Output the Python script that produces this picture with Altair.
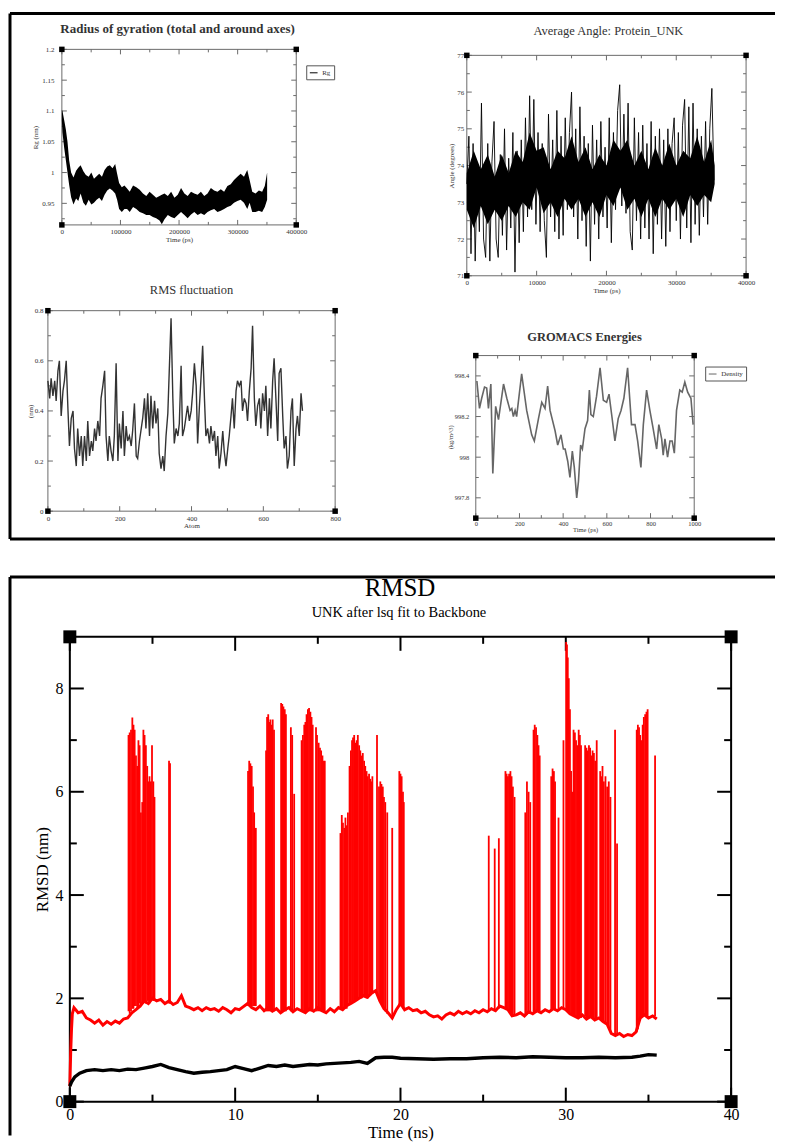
import altair as alt
import pandas as pd

FONT = "Liberation Serif"

# ---------------- Radius of gyration (time ps, Rg nm band envelope) ----------------
rg_t = [0, 1000, 4000, 6800, 9600, 12400, 15800, 19800, 24300, 28000,
        32000, 36700, 41000, 45800, 50300, 54800, 59300, 63800, 68400, 72900,
        77400, 81900, 86400, 91000, 94300, 97700, 102300, 106800, 111300, 115800,
        121500, 127100, 132800, 138400, 144100, 149700, 155400, 161000, 166700, 170600,
        175200, 180800, 186500, 192100, 197800, 203400, 209100, 214700, 220400, 226000,
        231700, 237300, 243000, 248600, 254300, 259900, 265600, 271200, 276900, 282500,
        288200, 293800, 299500, 305100, 310800, 316400, 320400, 324900, 330500, 336200,
        341800, 346300, 350300]
rg_hi = [1.102, 1.100, 1.085, 1.070, 1.050, 1.020, 1.000, 0.992, 1.003, 1.008,
         1.012, 1.002, 0.996, 0.993, 1.000, 0.990, 0.994, 0.998, 0.993, 1.004,
         1.010, 1.012, 1.007, 1.014, 0.998, 0.983, 0.976, 0.979, 0.974, 0.969,
         0.979, 0.976, 0.972, 0.966, 0.962, 0.969, 0.964, 0.959, 0.962, 0.964,
         0.966, 0.962, 0.969, 0.959, 0.964, 0.975, 0.966, 0.962, 0.969, 0.966,
         0.964, 0.969, 0.962, 0.966, 0.975, 0.971, 0.969, 0.973, 0.969, 0.978,
         0.981, 0.988, 0.993, 0.998, 0.993, 1.004, 0.988, 0.969, 0.966, 0.971,
         0.969, 0.978, 1.000]
rg_lo = [1.085, 1.065, 1.040, 1.020, 1.000, 0.980, 0.960, 0.948, 0.958, 0.954,
         0.966, 0.951, 0.946, 0.956, 0.948, 0.951, 0.956, 0.959, 0.954, 0.964,
         0.971, 0.974, 0.971, 0.966, 0.956, 0.941, 0.936, 0.941, 0.941, 0.936,
         0.944, 0.941, 0.936, 0.934, 0.931, 0.931, 0.928, 0.926, 0.922, 0.916,
         0.924, 0.931, 0.928, 0.926, 0.931, 0.936, 0.931, 0.926, 0.932, 0.936,
         0.931, 0.934, 0.931, 0.936, 0.939, 0.941, 0.936, 0.938, 0.941, 0.944,
         0.946, 0.951, 0.954, 0.956, 0.951, 0.941, 0.951, 0.936, 0.936, 0.938,
         0.936, 0.944, 0.956]

# ---------------- Average angle (time ps, degrees) ----------------
ang_core_t = [0, 1000, 2000, 3000, 4000, 5000, 6000, 7000, 8000, 9000,
              10000, 11000, 12000, 13000, 14000, 15000, 16000, 17000, 18000, 19000,
              20000, 21000, 22000, 23000, 24000, 25000, 26000, 27000, 28000, 29000,
              30000, 31000, 32000, 33000, 34000, 35000, 35500]
ang_core_lo = [72.8, 72.3, 72.9, 72.4, 72.8, 72.5, 72.9, 72.6, 73.0, 72.8,
               73.4, 72.7, 73.0, 72.6, 73.1, 72.8, 73.1, 72.6, 73.0, 72.6,
               73.2, 72.9, 73.4, 72.8, 73.1, 72.6, 73.1, 72.6, 73.1, 72.8,
               73.1, 72.6, 73.2, 72.9, 73.2, 73.0, 73.5]
ang_core_hi = [73.8, 74.4, 73.9, 74.3, 73.7, 74.3, 73.8, 74.4, 74.1, 74.9,
               74.4, 74.5, 73.9, 74.4, 74.2, 74.8, 74.1, 74.5, 73.9, 74.3,
               74.0, 74.7, 74.4, 74.7, 74.0, 74.4, 73.9, 74.5, 74.0, 74.6,
               74.0, 74.4, 74.2, 74.8, 74.1, 74.7, 74.0]
ang_t = [0, 300, 600, 900, 1200, 1500, 1800, 2100, 2400, 2700,
         3000, 3300, 3600, 3900, 4200, 4500, 4800, 5100, 5400, 5700,
         6000, 6300, 6600, 6900, 7200, 7500, 7800, 8100, 8400, 8700,
         9000, 9300, 9600, 9900, 10200, 10500, 10800, 11100, 11400, 11700,
         12000, 12300, 12600, 12900, 13200, 13500, 13800, 14100, 14400, 14700,
         15000, 15300, 15600, 15900, 16200, 16500, 16800, 17100, 17400, 17700,
         18000, 18300, 18600, 18900, 19200, 19500, 19800, 20100, 20400, 20700,
         21000, 21300, 21600, 21900, 22200, 22500, 22800, 23100, 23400, 23700,
         24000, 24300, 24600, 24900, 25200, 25500, 25800, 26100, 26400, 26700,
         27000, 27300, 27600, 27900, 28200, 28500, 28800, 29100, 29400, 29700,
         30000, 30300, 30600, 30900, 31200, 31500, 31800, 32100, 32400, 32700,
         33000, 33300, 33600, 33900, 34200, 34500, 34800, 35100, 35400]
ang_v = [73.5, 74.8, 71.6, 74.6, 71.4, 73.9, 72.2, 75.7, 72.0, 71.5,
         74.6, 71.4, 74.1, 75.2, 72.0, 71.5, 74.3, 72.1, 75.0, 71.7,
         74.2, 72.3, 74.9, 71.1, 74.4, 71.9, 74.7, 72.2, 75.3, 72.6,
         75.9, 72.8, 75.8, 72.4, 74.9, 72.2, 74.6, 72.5, 71.5, 75.4,
         72.6, 74.7, 72.2, 75.5, 72.0, 74.8, 72.1, 75.3, 72.8, 74.9,
         76.0, 72.6, 75.0, 72.0, 75.6, 72.5, 74.8, 71.8, 74.6, 71.4,
         75.1, 72.4, 74.7, 72.0, 75.2, 72.6, 74.5, 72.3, 75.3, 71.9,
         74.9, 72.8, 75.5, 76.2, 72.9, 75.4, 72.7, 75.7, 72.2, 71.7,
         75.3, 72.5, 74.9, 72.0, 75.1, 72.3, 74.6, 72.0, 75.2, 71.6,
         74.8, 72.4, 75.0, 72.0, 74.7, 71.8, 75.0, 72.2, 74.6, 75.3,
         72.5, 74.9, 72.0, 75.1, 75.8, 72.3, 75.6, 71.9, 75.7, 72.4,
         75.0, 72.1, 74.8, 72.6, 75.2, 72.4, 75.0, 76.1, 73.6]

# ---------------- RMS fluctuation (atom, nm) ----------------
rmsf_atom = [0, 5, 9, 14, 19, 23, 28, 32, 37, 42,
             46, 51, 56, 60, 65, 70, 74, 79, 83, 88,
             93, 97, 102, 107, 111, 116, 121, 125, 130, 134,
             139, 144, 148, 153, 158, 162, 167, 171, 176, 181,
             185, 190, 195, 199, 204, 209, 213, 218, 222, 227,
             232, 236, 241, 246, 250, 255, 260, 264, 269, 273,
             278, 283, 287, 292, 297, 301, 306, 310, 315, 320,
             324, 329, 334, 338, 343, 348, 352, 357, 362, 366,
             371, 375, 380, 385, 389, 394, 399, 403, 408, 413,
             417, 422, 426, 431, 436, 440, 445, 450, 454, 459,
             464, 468, 473, 477, 482, 487, 491, 496, 501, 505,
             510, 514, 519, 524, 528, 533, 538, 542, 547, 552,
             556, 561, 566, 570, 575, 579, 584, 589, 593, 598,
             603, 607, 612, 617, 621, 626, 630, 635, 640, 644,
             649, 654, 658, 663, 667, 672, 677, 681, 686, 691,
             695, 700, 705, 709]
rmsf_nm = [0.52, 0.45, 0.53, 0.46, 0.52, 0.44, 0.56, 0.60, 0.38, 0.48,
           0.52, 0.60, 0.40, 0.26, 0.37, 0.40, 0.25, 0.18, 0.33, 0.22,
           0.30, 0.18, 0.30, 0.20, 0.36, 0.22, 0.28, 0.24, 0.33, 0.28,
           0.36, 0.30, 0.45, 0.50, 0.56, 0.30, 0.20, 0.30, 0.24, 0.20,
           0.30, 0.59, 0.20, 0.35, 0.25, 0.40, 0.22, 0.34, 0.28, 0.30,
           0.26, 0.32, 0.43, 0.22, 0.21, 0.28, 0.33, 0.37, 0.45, 0.33,
           0.47, 0.30, 0.46, 0.33, 0.44, 0.35, 0.41, 0.23, 0.17, 0.22,
           0.16, 0.30, 0.39, 0.56, 0.77, 0.45, 0.27, 0.33, 0.30, 0.35,
           0.58, 0.30, 0.33, 0.38, 0.42, 0.36, 0.40, 0.47, 0.59, 0.50,
           0.27, 0.42, 0.52, 0.66, 0.45, 0.30, 0.33, 0.27, 0.34, 0.28,
           0.32, 0.22, 0.30, 0.17, 0.23, 0.32, 0.24, 0.18, 0.25, 0.30,
           0.38, 0.45, 0.33, 0.48, 0.52, 0.50, 0.52, 0.40, 0.45, 0.43,
           0.36, 0.48, 0.57, 0.74, 0.45, 0.34, 0.42, 0.45, 0.33, 0.47,
           0.40, 0.50, 0.30, 0.45, 0.33, 0.52, 0.61, 0.45, 0.28, 0.55,
           0.57, 0.38, 0.25, 0.30, 0.17, 0.22, 0.40, 0.45, 0.18, 0.33,
           0.38, 0.30, 0.47, 0.40]

# ---------------- GROMACS energies: density (time ps, kg/m^3) ----------------
dens_t = [5, 17, 27, 40, 50, 58, 69, 78, 91, 104,
          127, 142, 157, 165, 172, 180, 187, 210, 233, 256,
          268, 287, 302, 317, 329, 340, 363, 375, 390, 401,
          409, 421, 431, 442, 451, 462, 470, 480, 488, 500,
          512, 520, 527, 538, 553, 569, 584, 599, 610, 622,
          637, 652, 665, 678, 695, 713, 729, 741, 756, 767,
          782, 797, 812, 828, 838, 851, 858, 866, 878, 889,
          899, 909, 919, 934, 945, 957, 970, 985, 995]
dens_v = [998.375, 998.24, 998.29, 998.345, 998.34, 998.24, 998.36, 997.92, 998.25, 998.185,
          998.36, 998.29, 998.23, 998.24, 998.2, 998.23, 998.2, 998.41, 998.23, 998.11,
          998.08, 998.19, 998.27, 998.24, 998.35, 998.23, 998.13, 998.06, 998.11, 998.04,
          998.04, 997.98, 997.9, 998.03, 997.95, 997.8, 997.88, 998.06, 998.04, 998.14,
          998.18, 998.33, 998.21, 998.2, 998.3, 998.44, 998.28, 998.27, 998.31, 998.21,
          998.08, 998.19, 998.23, 998.29, 998.44, 998.16, 998.16, 998.08, 997.95, 998.16,
          998.33, 998.23, 998.14, 998.04, 998.16, 998.09, 998.01, 998.09, 998.0, 998.08,
          998.08, 998.02, 998.23, 998.33, 998.32, 998.37, 998.32, 998.29, 998.16]

# ---------------- RMSD (time ns, nm) ----------------
bb_t = [0.0, 0.1, 0.3, 0.6, 1.0, 1.5, 2.0, 2.5, 3.0, 3.5,
        4.0, 4.5, 5.0, 5.5, 6.0, 6.5, 7.0, 7.5, 8.0, 8.5,
        9.0, 9.5, 10.0, 10.5, 11.0, 11.5, 12.0, 12.5, 13.0, 13.5,
        14.0, 14.5, 15.0, 15.5, 16.0, 16.5, 17.0, 17.5, 18.0, 18.5,
        19.0, 19.5, 20.0, 21, 22, 23, 24, 25, 26, 27,
        28, 29, 30, 31, 32, 33, 34, 34.5, 35.0, 35.5]
bb_v = [0.30, 0.38, 0.48, 0.55, 0.60, 0.62, 0.60, 0.62, 0.60, 0.63,
        0.62, 0.65, 0.68, 0.72, 0.66, 0.62, 0.58, 0.55, 0.57, 0.58,
        0.60, 0.62, 0.68, 0.64, 0.60, 0.65, 0.70, 0.68, 0.71, 0.68,
        0.70, 0.72, 0.71, 0.73, 0.74, 0.75, 0.76, 0.78, 0.74, 0.85,
        0.86, 0.86, 0.84, 0.83, 0.82, 0.83, 0.83, 0.85, 0.86, 0.85,
        0.87, 0.86, 0.85, 0.85, 0.86, 0.85, 0.86, 0.88, 0.91, 0.90]

red_t = [0, 0.05, 0.1, 0.15,
         0.25, 0.5, 0.75, 1.0, 1.25, 1.5, 1.75, 2.0, 2.25, 2.5, 2.75, 3.0,
         3.25, 3.5, 3.75, 4.0, 4.25, 4.5, 4.75, 5.0, 5.25, 5.5, 5.75, 6.0,
         6.25, 6.5, 6.75, 7.0, 7.25, 7.5, 7.75, 8.0, 8.25, 8.5, 8.75, 9.0,
         9.25, 9.5, 9.75, 10.0, 10.25, 10.5, 10.75, 11.0, 11.25, 11.5, 11.75, 12.0,
         12.25, 12.5, 12.75, 13.0, 13.25, 13.5, 13.75, 14.0, 14.25, 14.5, 14.75, 15.0,
         15.25, 15.5, 15.75, 16.0, 16.25, 16.5, 16.75, 17.0, 17.25, 17.5, 17.75, 18.0,
         18.25, 18.5, 18.75, 19.0, 19.25, 19.5, 19.75, 20.0, 20.25, 20.5, 20.75, 21.0,
         21.25, 21.5, 21.75, 22.0, 22.25, 22.5, 22.75, 23.0, 23.25, 23.5, 23.75, 24.0,
         24.25, 24.5, 24.75, 25.0, 25.25, 25.5, 25.75, 26.0, 26.25, 26.5, 26.75, 27.0,
         27.25, 27.5, 27.75, 28.0, 28.25, 28.5, 28.75, 29.0, 29.25, 29.5, 29.75, 30.0,
         30.25, 30.5, 30.75, 31.0, 31.25, 31.5, 31.75, 32.0, 32.25, 32.5, 32.75, 33.0,
         33.25, 33.5, 33.75, 34.0, 34.25, 34.5, 34.75, 35.0, 35.25, 35.5]
red_v = [0.30, 0.95, 1.40, 1.70,
         1.82, 1.72, 1.75, 1.62, 1.58, 1.52, 1.58, 1.48, 1.55, 1.50, 1.56, 1.52,
         1.60, 1.62, 1.72, 1.78, 1.85, 1.95, 1.90, 2.00, 1.95, 1.98, 1.90, 1.95,
         1.88, 1.92, 2.05, 1.85, 1.82, 1.78, 1.82, 1.76, 1.82, 1.78, 1.80, 1.75,
         1.82, 1.78, 1.72, 1.80, 1.78, 1.84, 1.90, 1.82, 1.78, 1.85, 1.76, 1.82,
         1.75, 1.80, 1.72, 1.78, 1.82, 1.74, 1.80, 1.76, 1.72, 1.80, 1.75, 1.82,
         1.76, 1.72, 1.80, 1.74, 1.82, 1.78, 1.86, 1.90, 1.95, 2.00, 2.05, 2.02,
         2.10, 2.15, 1.95, 1.80, 1.72, 1.62, 1.78, 1.90, 1.78, 1.82, 1.76, 1.78,
         1.72, 1.75, 1.68, 1.64, 1.66, 1.60, 1.68, 1.72, 1.68, 1.75, 1.70, 1.74,
         1.70, 1.76, 1.72, 1.78, 1.74, 1.80, 1.76, 1.85, 1.82, 1.78, 1.66, 1.68,
         1.72, 1.66, 1.74, 1.70, 1.76, 1.72, 1.78, 1.74, 1.80, 1.76, 1.82, 1.78,
         1.70, 1.66, 1.62, 1.68, 1.60, 1.65, 1.58, 1.62, 1.55, 1.50, 1.32, 1.28,
         1.32, 1.26, 1.30, 1.28, 1.35, 1.62, 1.68, 1.62, 1.66, 1.60]

spike_t = [3.55, 3.62, 3.7, 3.78, 3.85, 3.92, 4.0, 4.08, 4.15, 4.22, 4.3, 4.38, 4.45, 4.52, 4.6, 4.68, 4.75, 4.82, 4.9, 4.97, 5.05, 5.12,
           6.0, 6.06,
           10.78, 10.85, 10.92, 11.0, 11.08, 11.15, 11.25,
           11.87, 11.93, 12.0, 12.07, 12.13, 12.2, 12.27, 12.35,
           12.78, 12.85, 12.92, 13.0, 13.07, 13.37, 13.45, 13.57,
           14.02, 14.1, 14.18, 14.25, 14.32, 14.4, 14.47, 14.55, 14.62, 14.69, 14.89, 14.95,
           15.05, 15.13, 15.2, 15.28, 15.35, 15.42,
           16.37, 16.45, 16.52, 16.6, 16.67, 16.75, 16.82,
           16.92, 17.0, 17.07, 17.13, 17.2, 17.27, 17.35, 17.42, 17.5, 17.57, 17.65, 17.72, 17.8, 17.87, 17.95, 18.02, 18.1, 18.17, 18.25, 18.3,
           18.58, 18.7, 18.78, 18.85, 18.93, 19.0, 19.08, 19.2, 19.5,
           19.93, 20.0, 20.07, 20.15, 20.2,
           25.34, 25.7, 25.95,
           26.35, 26.42, 26.5, 26.57, 26.65, 26.72, 26.8, 26.9,
           27.55, 27.65, 27.75, 27.85,
           28.05, 28.12, 28.2, 28.28, 28.35, 28.42,
           29.12, 29.2, 29.28, 29.35, 29.56,
           29.86, 30.02, 30.07, 30.12, 30.18, 30.25, 30.32, 30.4, 30.47, 30.55, 30.62, 30.7, 30.78, 30.85, 30.92,
           31.17, 31.25, 31.32, 31.4, 31.47, 31.55, 31.62, 31.7, 31.78, 31.87,
           32.08, 32.15, 32.22, 32.3, 32.4, 32.5, 32.6, 32.7,
           32.98, 33.1,
           34.29, 34.36, 34.43, 34.5, 34.57, 34.65, 34.72, 34.8, 34.88, 34.95,
           35.4]
spike_top = [7.1, 7.15, 7.2, 7.44, 7.3, 7.2, 6.7, 6.5, 7.0, 6.9, 5.6, 5.8, 7.2, 7.1, 6.9, 6.5, 6.2, 6.3, 6.2, 6.9, 6.2, 5.9,
             6.6, 6.55,
             6.4, 6.6, 6.55, 6.5, 6.1, 5.6, 5.3,
             6.8, 7.45, 7.5, 7.35, 7.4, 7.3, 7.4, 7.2,
             7.72, 7.7, 7.65, 7.6, 7.5, 7.25, 7.1, 5.96,
             7.0, 7.1, 7.3, 7.35, 7.5, 7.6, 7.62, 7.55, 7.45, 7.3, 7.25, 7.1,
             6.95, 6.85, 6.8, 6.7, 6.6, 6.6,
             5.2, 5.55, 5.4, 5.3, 5.5, 5.35, 5.6,
             6.5, 6.8, 7.0, 7.05, 7.1, 6.95, 7.0, 7.1, 6.9, 6.8, 6.7, 6.75, 6.6, 6.5, 6.4, 6.3, 6.35, 6.25, 6.2, 6.3,
             7.1, 6.1, 6.2, 6.15, 6.1, 5.9, 5.8, 5.6, 5.3,
             6.4, 6.35, 6.3, 6.0, 5.8,
             5.15, 4.9, 5.1,
             6.4, 6.35, 6.3, 6.35, 6.4, 6.3, 6.1, 5.9,
             5.6, 6.2, 6.0, 5.8,
             7.2, 7.3, 7.25, 7.1, 6.9, 6.7,
             6.3, 6.45, 6.4, 6.2, 5.5,
             7.0, 8.9, 8.85, 8.6, 8.2, 7.6, 6.4, 6.0, 7.2, 7.15, 7.0, 6.9, 7.2, 7.1, 6.9,
             6.9, 6.85, 6.8, 6.9, 6.85, 6.7, 6.8, 6.75, 6.6, 7.0,
             6.4, 6.3, 6.5, 6.2, 6.3, 6.1, 6.2, 5.9,
             7.2, 5.0,
             7.2, 7.3, 7.25, 7.1, 7.0, 7.3, 7.45, 7.5, 7.55, 7.6,
             6.7]
spike_base = [1.75, 1.7, 1.75, 1.8, 1.8, 1.85, 1.85, 1.8, 1.85, 1.9, 1.85, 1.9, 1.9, 1.95, 1.9, 1.95, 1.95, 1.9, 1.95, 2.0, 1.95, 1.95,
              1.9, 1.9,
              1.85, 1.85, 1.85, 1.85, 1.85, 1.85, 1.85,
              1.75, 1.75, 1.75, 1.75, 1.75, 1.75, 1.75, 1.75,
              1.75, 1.75, 1.75, 1.75, 1.75, 1.75, 1.75, 1.75,
              1.75, 1.75, 1.75, 1.75, 1.75, 1.75, 1.75, 1.75, 1.75, 1.75, 1.75, 1.75,
              1.75, 1.75, 1.75, 1.75, 1.75, 1.75,
              1.8, 1.8, 1.8, 1.8, 1.8, 1.8, 1.85,
              1.9, 1.9, 1.9, 1.95, 1.95, 1.95, 1.95, 2.0, 2.0, 2.0, 2.0, 2.05, 2.05, 2.05, 2.0, 2.0, 2.05, 2.05, 2.1, 2.1,
              2.1, 2.0, 1.95, 1.9, 1.85, 1.8, 1.75, 1.7, 1.6,
              1.85, 1.85, 1.85, 1.8, 1.8,
              1.75, 1.75, 1.8,
              1.8, 1.8, 1.8, 1.75, 1.7, 1.66, 1.66, 1.66,
              1.66, 1.68, 1.7, 1.7,
              1.7, 1.72, 1.72, 1.74, 1.74, 1.74,
              1.75, 1.78, 1.78, 1.78, 1.78,
              1.8, 1.78, 1.78, 1.76, 1.74, 1.72, 1.7, 1.68, 1.66, 1.66, 1.64, 1.64, 1.62, 1.62, 1.62,
              1.66, 1.64, 1.62, 1.62, 1.64, 1.64, 1.6, 1.6, 1.6, 1.6,
              1.6, 1.6, 1.56, 1.56, 1.52, 1.5, 1.45, 1.35,
              1.3, 1.3,
              1.35, 1.4, 1.5, 1.6, 1.62, 1.66, 1.68, 1.66, 1.64, 1.62,
              1.66]

# ---------------- text & ticks ----------------
panel_titles = ["Radius of gyration (total and around axes)", "Average Angle: Protein_UNK",
                "RMS fluctuation", "GROMACS Energies", "RMSD", "UNK after lsq fit to Backbone"]
axis_titles = {"rg": ("Time (ps)", "Rg (nm)"), "ang": ("Time (ps)", "Angle (degrees)"),
               "rmsf": ("Atom", "(nm)"), "dens": ("Time (ps)", "(kg/m^3)"),
               "rmsd": ("Time (ns)", "RMSD (nm)")}
legend_labels = ["Rg", "Density"]

rg_xmaj = [0, 100000, 200000, 300000, 400000]
rg_xmin = [50000, 150000, 250000, 350000]
rg_ymaj = [0.95, 1.0, 1.05, 1.1, 1.15, 1.2]
rg_ymin = [0.925, 0.975, 1.025, 1.075, 1.125, 1.175]
ang_xmaj = [0, 10000, 20000, 30000, 40000]
ang_xmin = [5000, 15000, 25000, 35000]
ang_ymaj = [71, 72, 73, 74, 75, 76, 77]
ang_ymin = [71.5, 72.5, 73.5, 74.5, 75.5, 76.5]
rmsf_xmaj = [0, 200, 400, 600, 800]
rmsf_xmin = [100, 300, 500, 700]
rmsf_ymaj = [0, 0.2, 0.4, 0.6, 0.8]
rmsf_ymin = [0.1, 0.3, 0.5, 0.7]
dens_xmaj = [0, 200, 400, 600, 800, 1000]
dens_xmin = [100, 300, 500, 700, 900]
dens_ymaj = [997.8, 998.0, 998.2, 998.4]
dens_ymin = [997.9, 998.1, 998.3]
rmsd_xmaj = [0, 10, 20, 30, 40]
rmsd_xmin = [5, 15, 25, 35]
rmsd_ymaj = [0, 2, 4, 6, 8]
rmsd_ymin = [1, 3, 5, 7]

W = 767
TOP_H, BOT_H = 527, 560

P1 = dict(xdom=[0, 400000], ydom=[0.915, 1.2], xr=[52, 287], yr=[212, 36],
          xmaj=rg_xmaj, xmin=rg_xmin, ymaj=rg_ymaj, ymin=rg_ymin, fx="d", fy=".2~f")
P2 = dict(xdom=[0, 40000], ydom=[71, 77], xr=[458, 738], yr=[263, 42],
          xmaj=ang_xmaj, xmin=ang_xmin, ymaj=ang_ymaj, ymin=ang_ymin, fx="d", fy="d")
P3 = dict(xdom=[0, 800], ydom=[0, 0.8], xr=[38, 326], yr=[499, 298],
          xmaj=rmsf_xmaj, xmin=rmsf_xmin, ymaj=rmsf_ymaj, ymin=rmsf_ymin, fx="d", fy=".1~f")
P4 = dict(xdom=[0, 1000], ydom=[997.7, 998.5], xr=[467, 686], yr=[506, 343],
          xmaj=dens_xmaj, xmin=dens_xmin, ymaj=dens_ymaj, ymin=dens_ymin, fx="d", fy=".1~f")
P5 = dict(xdom=[0, 40], ydom=[0, 9], xr=[60, 723], yr=[526, 60],
          xmaj=rmsd_xmaj, xmin=rmsd_xmin, ymaj=rmsd_ymaj, ymin=rmsd_ymin, fx="d", fy="d")


def scales(P):
    xs = alt.Scale(domain=P["xdom"], range=P["xr"], nice=False, zero=False)
    ys = alt.Scale(domain=P["ydom"], range=P["yr"], nice=False, zero=False)
    return xs, ys


def axes(P, H, titles, fs, tfs, col, lpx, tpx, lpy, tpy):
    common = dict(grid=False, domain=False, ticks=False,
                  labelFont=FONT, labelFontSize=fs, labelColor=col,
                  labelFlush=False, labelOverlap=False,
                  titleFont=FONT, titleFontSize=tfs, titleFontWeight="normal", titleColor=col)
    ax = alt.Axis(orient="bottom", offset=P["yr"][0] - H, values=P["xmaj"], title=titles[0],
                  format=P["fx"], labelPadding=lpx, titlePadding=tpx, **common)
    ay = alt.Axis(orient="left", offset=-P["xr"][0], values=P["ymaj"], title=titles[1],
                  format=P["fy"], labelPadding=lpy, titlePadding=tpy, **common)
    return ax, ay


def decor(P, ax, ay, col, fw, tw, maj, mnr, csize):
    xs, ys = scales(P)
    x0, x1 = P["xr"]
    yb, yt = P["yr"]
    layers = []
    frame = pd.DataFrame({"a": [P["xdom"][0]], "b": [P["xdom"][1]],
                          "c": [P["ydom"][0]], "d": [P["ydom"][1]]})
    layers.append(alt.Chart(frame).mark_rect(fillOpacity=0, stroke=col, strokeWidth=fw).encode(
        x=alt.X("a:Q", scale=xs, axis=ax), x2="b:Q",
        y=alt.Y("c:Q", scale=ys, axis=ay), y2="d:Q"))
    for vals, L in ((P["xmaj"], maj), (P["xmin"], mnr)):
        base = alt.Chart(pd.DataFrame({"v": vals})).mark_rule(color=col, strokeWidth=tw)
        xe = alt.X("v:Q", scale=xs, axis=ax)
        layers.append(base.encode(x=xe, y=alt.value(yb), y2=alt.value(yb - L)))
        layers.append(base.encode(x=xe, y=alt.value(yt), y2=alt.value(yt + L)))
    for vals, L in ((P["ymaj"], maj), (P["ymin"], mnr)):
        base = alt.Chart(pd.DataFrame({"v": vals})).mark_rule(color=col, strokeWidth=tw)
        ye = alt.Y("v:Q", scale=ys, axis=ay)
        layers.append(base.encode(y=ye, x=alt.value(x0), x2=alt.value(x0 + L)))
        layers.append(base.encode(y=ye, x=alt.value(x1), x2=alt.value(x1 - L)))
    corners = pd.DataFrame({"x": [P["xdom"][0], P["xdom"][1], P["xdom"][0], P["xdom"][1]],
                            "y": [P["ydom"][0], P["ydom"][0], P["ydom"][1], P["ydom"][1]]})
    layers.append(alt.Chart(corners).mark_square(size=csize, color="black", opacity=1).encode(
        x=alt.X("x:Q", scale=xs, axis=ax), y=alt.Y("y:Q", scale=ys, axis=ay)))
    return layers


def label(text, x, y, size, weight="normal", color="black"):
    return alt.Chart(pd.DataFrame({"txt": [text]})).mark_text(
        font=FONT, fontSize=size, fontWeight=weight, align="center",
        baseline="alphabetic", color=color).encode(
        x=alt.value(x), y=alt.value(y), text="txt:N")


def box_line(x, x2, y, y2):
    return alt.Chart(pd.DataFrame({"k": [0]})).mark_rule(color="black", strokeWidth=3).encode(
        x=alt.value(x), x2=alt.value(x2), y=alt.value(y), y2=alt.value(y2))


GREY = "#6a6a6a"
TXT = "#333333"

# ---- panel 1: radius of gyration ----
xs, ys = scales(P1)
ax, ay = axes(P1, TOP_H, axis_titles["rg"], 7, 7, TXT, 3, 1, 8, 3)
rg_df = pd.DataFrame({"t": rg_t, "lo": rg_lo, "hi": rg_hi, "s": legend_labels[0]})
rg_band = alt.Chart(rg_df).mark_area(opacity=1).encode(
    x=alt.X("t:Q", scale=xs, axis=ax),
    y=alt.Y("lo:Q", scale=ys, axis=ay), y2="hi:Q",
    color=alt.Color("s:N", scale=alt.Scale(domain=[legend_labels[0]], range=["black"]),
                    legend=alt.Legend(orient="none", legendX=297, legendY=52, title=None,
                                      symbolType="stroke", symbolStrokeColor="black",
                                      symbolStrokeWidth=1, symbolSize=60,
                                      labelFont=FONT, labelFontSize=7, labelColor=TXT,
                                      strokeColor="#555555", padding=3, fillColor="white")))
panel1 = alt.layer(*decor(P1, ax, ay, GREY, 1, 1, 5, 3, 30), rg_band)

# ---- panel 2: average angle ----
xs, ys = scales(P2)
ax, ay = axes(P2, TOP_H, axis_titles["ang"], 7, 7, TXT, 3, 1, 3, 2)
core_df = pd.DataFrame({"t": ang_core_t, "lo": ang_core_lo, "hi": ang_core_hi})
ang_df = pd.DataFrame({"t": ang_t, "v": ang_v})
ang_core = alt.Chart(core_df).mark_area(color="black", opacity=1).encode(
    x=alt.X("t:Q", scale=xs, axis=ax), y=alt.Y("lo:Q", scale=ys, axis=ay), y2="hi:Q")
ang_line = alt.Chart(ang_df).mark_line(color="black", strokeWidth=0.9).encode(
    x=alt.X("t:Q", scale=xs, axis=ax), y=alt.Y("v:Q", scale=ys, axis=ay))
panel2 = alt.layer(*decor(P2, ax, ay, GREY, 1, 1, 5, 3, 30), ang_core, ang_line)

# ---- panel 3: RMS fluctuation ----
xs, ys = scales(P3)
ax, ay = axes(P3, TOP_H, axis_titles["rmsf"], 7, 7, TXT, 3, 0, 5, 1)
rmsf_df = pd.DataFrame({"a": rmsf_atom, "v": rmsf_nm})
rmsf_line = alt.Chart(rmsf_df).mark_line(color="#333333", strokeWidth=1.4).encode(
    x=alt.X("a:Q", scale=xs, axis=ax), y=alt.Y("v:Q", scale=ys, axis=ay))
panel3 = alt.layer(*decor(P3, ax, ay, GREY, 1, 1, 5, 3, 30), rmsf_line)

# ---- panel 4: density ----
xs, ys = scales(P4)
ax, ay = axes(P4, TOP_H, axis_titles["dens"], 6.5, 6.5, TXT, 2, 0, 7, 1)
dens_df = pd.DataFrame({"t": dens_t, "v": dens_v, "s": legend_labels[1]})
dens_line = alt.Chart(dens_df).mark_line(strokeWidth=1.6).encode(
    x=alt.X("t:Q", scale=xs, axis=ax), y=alt.Y("v:Q", scale=ys, axis=ay),
    color=alt.Color("s:N", scale=alt.Scale(domain=[legend_labels[1]], range=["#666666"]),
                    legend=alt.Legend(orient="none", legendX=697, legendY=354, title=None,
                                      symbolType="stroke", symbolStrokeWidth=1, symbolSize=60,
                                      labelFont=FONT, labelFontSize=7, labelColor=TXT,
                                      strokeColor="#555555", padding=3, fillColor="white")))
panel4 = alt.layer(*decor(P4, ax, ay, GREY, 1, 1, 5, 3, 30), dens_line)

top = alt.layer(
    box_line(0, W, 0, 0), box_line(0, 0, 0, TOP_H), box_line(0, W, TOP_H, TOP_H),
    panel1, panel2, panel3, panel4,
    label(panel_titles[0], 168, 20, 13, "bold", TXT),
    label(panel_titles[1], 600, 22, 12.5, "normal", TXT),
    label(panel_titles[2], 182, 281, 12.5, "normal", TXT),
    label(panel_titles[3], 576, 328, 12.5, "bold", TXT),
).resolve_scale(x="independent", y="independent", color="independent").properties(
    width=W, height=TOP_H)

# ---- bottom: RMSD ----
xs, ys = scales(P5)
ax, ay = axes(P5, BOT_H, axis_titles["rmsd"], 16, 17, "black", 5, 2, 7, 3)
red_df = pd.DataFrame({"t": red_t, "v": red_v})
spk_df = pd.DataFrame({"t": spike_t, "top": spike_top, "base": spike_base})
bb_df = pd.DataFrame({"t": bb_t, "v": bb_v})
red_line = alt.Chart(red_df).mark_line(color="#ff0000", strokeWidth=3).encode(
    x=alt.X("t:Q", scale=xs, axis=ax), y=alt.Y("v:Q", scale=ys, axis=ay))
spikes = alt.Chart(spk_df).mark_rule(color="#ff0000", strokeWidth=1.8).encode(
    x=alt.X("t:Q", scale=xs, axis=ax), y=alt.Y("top:Q", scale=ys, axis=ay), y2="base:Q")
bb_line = alt.Chart(bb_df).mark_line(color="black", strokeWidth=3.4).encode(
    x=alt.X("t:Q", scale=xs, axis=ax), y=alt.Y("v:Q", scale=ys, axis=ay))

bottom = alt.layer(
    box_line(0, W, 0, 0), box_line(0, 0, 0, BOT_H),
    *decor(P5, ax, ay, "black", 2, 2, 14, 7, 169),
    spikes, red_line, bb_line,
    label(panel_titles[4], 391, 19, 25),
    label(panel_titles[5], 390, 40, 14.5),
).properties(width=W, height=BOT_H)

chart = alt.vconcat(top, bottom, spacing=38, bounds="flush").properties(
    padding={"left": 0, "top": 2, "right": 0, "bottom": 0}, background="white"
).configure_view(strokeWidth=0)

chart.save("out.html", embed_options={"renderer": "svg", "actions": False})
